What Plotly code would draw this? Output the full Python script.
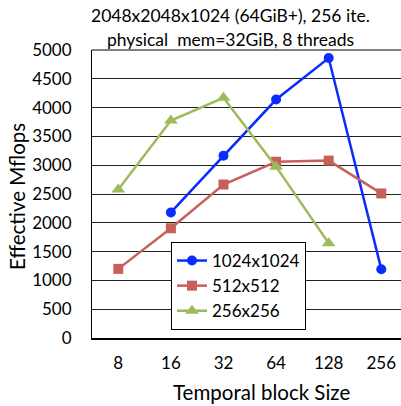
import plotly.graph_objects as go

categories = ["8", "16", "32", "64", "128", "256"]
series_names = ["1024x1024", "512x512", "256x256"]
s1024 = [None, 2180, 3165, 4140, 4860, 1195]
s512 = [1200, 1905, 2665, 3060, 3080, 2510]
s256 = [2580, 3775, 4170, 2975, 1645, None]
yticks = [0, 500, 1000, 1500, 2000, 2500, 3000, 3500, 4000, 4500, 5000]

FONT = "Lato"
L, T, B = 92, 50, 338
W, H = 401, 406
PW, PH = W - L, B - T

fig = go.Figure()
styles = [
    (s1024, "#0a2cff", "circle", 10),
    (s512, "#c8605a", "square", 10),
    (s256, "#9dbb5e", "triangle-up", 12),
]
for name, (vals, col, sym, sz) in zip(series_names, styles):
    fig.add_trace(go.Scatter(
        x=categories, y=vals, name=name, mode="lines+markers",
        line=dict(color=col, width=2.5),
        marker=dict(symbol=sym, size=sz, color=col),
        connectgaps=False,
    ))

def px(x):
    return (x - L) / PW

def py(y):
    return (B - y) / PH

fig.update_layout(
    width=W, height=H,
    margin=dict(l=L, r=0, t=T, b=H - B, pad=0),
    paper_bgcolor="white", plot_bgcolor="white",
    font=dict(family=FONT, size=17, color="black"),
    showlegend=True,
    legend=dict(
        x=px(171), y=py(242),
        xanchor="left", yanchor="top",
        bgcolor="white", bordercolor="black", borderwidth=1,
        font=dict(family=FONT, size=17),
    ),
    xaxis=dict(
        type="category", range=[-0.5, 5.375],
        showgrid=False, showline=True, linecolor="black", linewidth=2,
        mirror=False, ticks="", tickfont=dict(size=17), ticklabelstandoff=9,
    ),
    yaxis=dict(
        range=[0, 5000], tickvals=yticks,
        showgrid=True, gridcolor="#222222", gridwidth=1,
        showline=True, linecolor="black", linewidth=1,
        ticks="", tickfont=dict(size=17), zeroline=False, ticklabelstandoff=16,
    ),
    annotations=[
        dict(text="2048x2048x1024 (64GiB+), 256 ite.", x=px(230), y=py(16),
             font=dict(size=17.5)),
        dict(text="physical  mem=32GiB, 8 threads", x=px(230), y=py(39),
             font=dict(size=17.5)),
        dict(text="Temporal block Size", x=px(261), y=py(392),
             font=dict(size=20.5)),
        dict(text="Effective Mflops", x=px(17), y=py(197),
             textangle=-90, font=dict(size=20.5)),
    ],
)
for a in fig.layout.annotations:
    a.xref = "paper"
    a.yref = "paper"
    a.showarrow = False
    a.xanchor = "center"
    a.yanchor = "middle"

# top border
fig.add_shape(type="line", xref="paper", yref="paper", x0=0, x1=1, y0=1, y1=1,
              line=dict(color="black", width=1))

fig.write_html("out.html", config={"displayModeBar": False},
               post_script="document.body.style.margin='0';")
